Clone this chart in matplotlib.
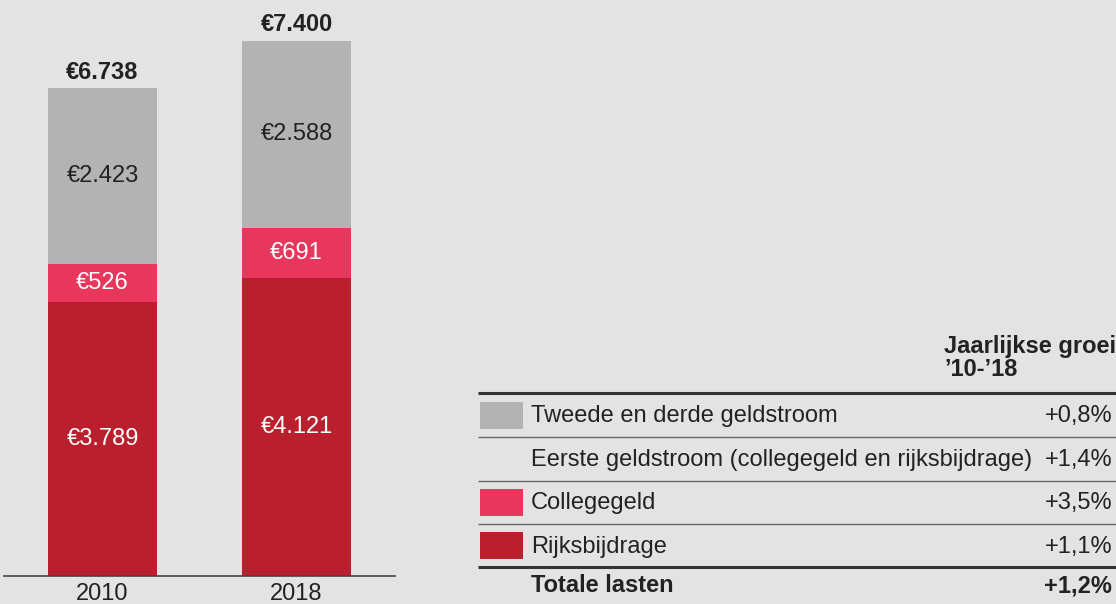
import matplotlib.pyplot as plt
from matplotlib.patches import Rectangle

plt.rcParams['font.family'] = ['Liberation Sans', 'DejaVu Sans']

years = ["2010", "2018"]
rijksbijdrage = [3789, 4121]
collegegeld = [526, 691]
tweede_derde = [2423, 2588]
totals = [6738, 7400]

rows = ["Tweede en derde geldstroom",
        "Eerste geldstroom (collegegeld en rijksbijdrage)",
        "Collegegeld",
        "Rijksbijdrage"]
growth = ["+0,8%", "+1,4%", "+3,5%", "+1,1%"]
total_label = "Totale lasten"
total_growth = "+1,2%"

bg = "#e3e3e3"
c_gray = "#b3b3b3"
c_pink = "#e8365d"
c_red = "#b91f2c"
row_colors = [c_gray, None, c_pink, c_red]
fs = 17


def fmt(v):
    return "€" + f"{v:,}".replace(",", ".")


W, H = 1116, 604
fig = plt.figure(figsize=(W / 100, H / 100), dpi=100, facecolor=bg)

# bar chart
ax = fig.add_axes([4 / W, (H - 576) / H, 391 / W, 576 / H])
ax.set_facecolor(bg)
x = range(len(years))
width = 0.562
ax.bar(x, rijksbijdrage, width, color=c_red)
bottom2 = rijksbijdrage
ax.bar(x, collegegeld, width, bottom=bottom2, color=c_pink)
bottom3 = [a + b for a, b in zip(rijksbijdrage, collegegeld)]
ax.bar(x, tweede_derde, width, bottom=bottom3, color=c_gray)

for i in x:
    ax.text(i, rijksbijdrage[i] / 2, fmt(rijksbijdrage[i]), ha="center", va="center",
            color="white", fontsize=fs)
    ax.text(i, rijksbijdrage[i] + collegegeld[i] / 2, fmt(collegegeld[i]), ha="center",
            va="center", color="white", fontsize=fs)
    ax.text(i, bottom3[i] + tweede_derde[i] / 2, fmt(tweede_derde[i]), ha="center",
            va="center", color="#222222", fontsize=fs)
    ax.annotate(fmt(totals[i]), (i, totals[i]), xytext=(0, 3), textcoords="offset points",
                ha="center", va="bottom", fontsize=fs, fontweight="bold", color="#222222")

ax.set_xlim(-0.508, 1.508)
ax.set_ylim(0, 7961)
ax.set_xticks(list(x))
ax.set_xticklabels(years, fontsize=fs, color="#222222")
ax.tick_params(axis="x", length=0, pad=5)
ax.set_yticks([])
for s in ["top", "right", "left"]:
    ax.spines[s].set_visible(False)
ax.spines["bottom"].set_color("#444444")
ax.spines["bottom"].set_linewidth(1.2)

# table / legend in pixel coordinates
tx = fig.add_axes([0, 0, 1, 1])
tx.set_xlim(0, W)
tx.set_ylim(H, 0)
tx.axis("off")
tx.patch.set_alpha(0)

tx.text(944, 346, "Jaarlijkse groei", fontsize=fs, fontweight="bold", va="center",
        color="#222222")
tx.text(944, 370, "’10-’18", fontsize=fs, fontweight="bold", va="center", color="#222222")

line_ys = [393, 437, 481, 524, 567]
for k, ly in enumerate(line_ys):
    thick = k in (0, len(line_ys) - 1)
    tx.plot([478, W], [ly, ly], color="#333333" if thick else "#666666",
            lw=2.2 if thick else 1.0, solid_capstyle="butt")

for k, (name, g, col) in enumerate(zip(rows, growth, row_colors)):
    yc = (line_ys[k] + line_ys[k + 1]) / 2
    if col:
        tx.add_patch(Rectangle((480, yc - 13.5), 43, 27, color=col, lw=0))
    tx.text(531, yc + 1, name, fontsize=fs, va="center", color="#222222")
    tx.text(1112, yc + 1, g, fontsize=fs, va="center", ha="right", color="#222222")

tx.text(531, 586, total_label, fontsize=fs, fontweight="bold", va="center", color="#222222")
tx.text(1112, 586, total_growth, fontsize=fs, fontweight="bold", va="center", ha="right",
        color="#222222")

fig.savefig("out.png", dpi=100, facecolor=bg)
